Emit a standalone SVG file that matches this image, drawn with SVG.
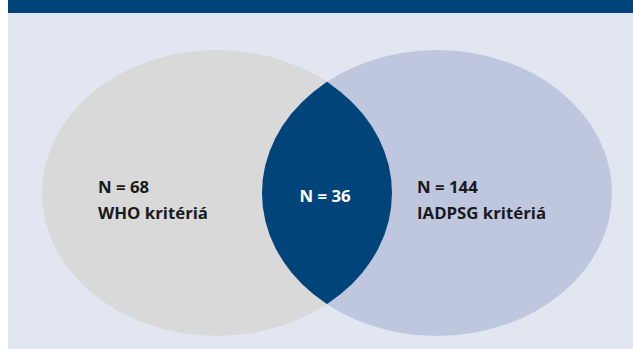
<svg xmlns="http://www.w3.org/2000/svg" width="633" height="349" viewBox="0 0 633 349">
  <style>
    .lbl { font-family: "Open Sans", "Liberation Sans", sans-serif; font-weight: 700; font-size: 16.8px; fill: #1a1a1a; }
    .lbl-inv { fill: #ffffff; }
  </style>
  <defs>
    <clipPath id="clipLeft">
      <ellipse cx="217" cy="193" rx="175" ry="143"/>
    </clipPath>
  </defs>
  <rect x="0" y="0" width="633" height="349" fill="#ffffff"/>
  <rect x="8" y="0" width="625" height="349" fill="#e1e6f0"/>
  <rect x="8" y="0" width="625" height="13" fill="#00447a"/>
  <g id="who">
    <ellipse cx="217" cy="193" rx="175" ry="143" fill="#d9d9d9"/>
    <text class="lbl" x="98" y="193">N = 68</text>
    <text class="lbl" x="98" y="219">WHO kritériá</text>
  </g>
  <g id="iadpsg">
    <ellipse cx="437" cy="193" rx="175" ry="143" fill="#bfc7df"/>
    <text class="lbl" x="417" y="193">N = 144</text>
    <text class="lbl" x="417" y="219">IADPSG kritériá</text>
  </g>
  <g id="overlap">
    <ellipse cx="437" cy="193" rx="175" ry="143" fill="#00447a" clip-path="url(#clipLeft)"/>
    <text class="lbl lbl-inv" x="325" y="202" text-anchor="middle">N = 36</text>
  </g>
  <g id="connectors"/>
</svg>
